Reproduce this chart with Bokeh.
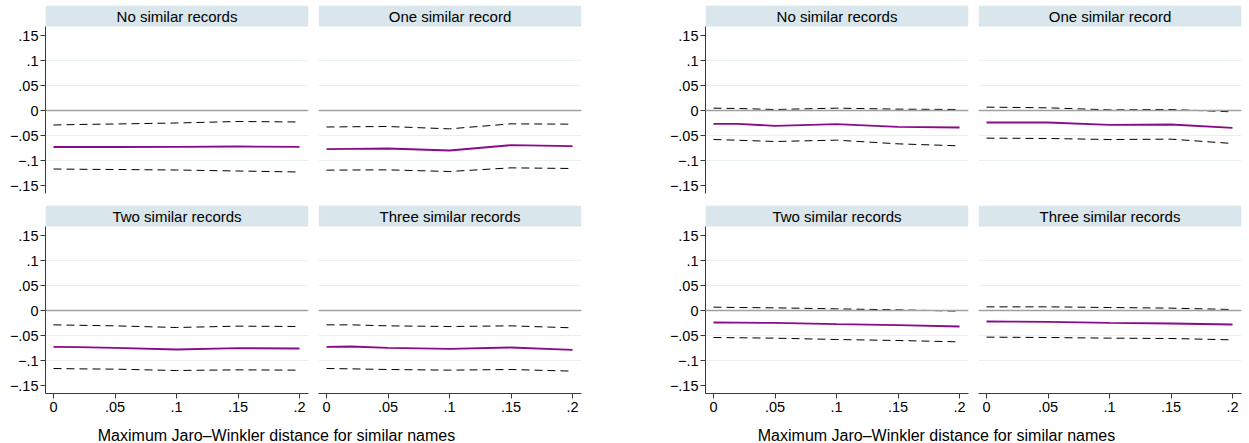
from bokeh.plotting import figure
from bokeh.layouts import column, row
from bokeh.models import FixedTicker, Span, BoxAnnotation, Label, Range1d, Grid
from bokeh.embed import file_html
from bokeh.resources import INLINE

# ---------------- data ----------------
X = [0, 0.02, 0.05, 0.1, 0.15, 0.2]
PANEL_TITLES = ["No similar records", "One similar record",
                "Two similar records", "Three similar records"]
X_TITLE = "Maximum Jaro\u2013Winkler distance for similar names"
X_TICKS = [0, 0.05, 0.1, 0.15, 0.2]
X_TICK_LABELS = ["0", ".05", ".1", ".15", ".2"]
Y_TICKS = [-0.15, -0.1, -0.05, 0, 0.05, 0.1, 0.15]
Y_TICK_LABELS = ["\u2212.15", "\u2212.1", "\u2212.05", "0", ".05", ".1", ".15"]
GRID_VALUES = [-0.1, -0.05, 0.05, 0.1]

# left group (estimate, lower CI, upper CI) per panel
left_no_est = [-0.073, -0.073, -0.073, -0.0727, -0.072, -0.0727]
left_no_lo = [-0.117, -0.1175, -0.118, -0.119, -0.121, -0.123]
left_no_hi = [-0.029, -0.028, -0.027, -0.025, -0.022, -0.023]

left_one_est = [-0.0773, -0.0767, -0.076, -0.080, -0.0693, -0.0713]
left_one_lo = [-0.1193, -0.119, -0.1187, -0.122, -0.1147, -0.116]
left_one_hi = [-0.033, -0.0325, -0.032, -0.0367, -0.0267, -0.0273]

left_two_est = [-0.0727, -0.0733, -0.0747, -0.078, -0.0753, -0.076]
left_two_lo = [-0.116, -0.1167, -0.1173, -0.12, -0.1187, -0.1193]
left_two_hi = [-0.0287, -0.0295, -0.0307, -0.034, -0.0313, -0.032]

left_three_est = [-0.0727, -0.072, -0.0747, -0.0767, -0.074, -0.0787]
left_three_lo = [-0.116, -0.1167, -0.118, -0.1193, -0.118, -0.1213]
left_three_hi = [-0.0287, -0.0287, -0.0307, -0.032, -0.0307, -0.0347]

# right group
right_no_est = [-0.0267, -0.0267, -0.0307, -0.0273, -0.0327, -0.034]
right_no_lo = [-0.058, -0.0595, -0.062, -0.0593, -0.0667, -0.0707]
right_no_hi = [0.0047, 0.004, 0.002, 0.0047, 0.0027, 0.002]

right_one_est = [-0.024, -0.024, -0.024, -0.0287, -0.028, -0.0347]
right_one_lo = [-0.0553, -0.0555, -0.056, -0.058, -0.0573, -0.066]
right_one_hi = [0.0067, 0.0063, 0.0053, 0.0013, 0.002, -0.0027]

right_two_est = [-0.024, -0.0243, -0.0247, -0.0273, -0.0293, -0.032]
right_two_lo = [-0.054, -0.0545, -0.0553, -0.058, -0.06, -0.0627]
right_two_hi = [0.0067, 0.006, 0.0053, 0.0033, 0.0013, -0.0013]

right_three_est = [-0.022, -0.0222, -0.0227, -0.0247, -0.026, -0.028]
right_three_lo = [-0.0533, -0.0536, -0.054, -0.0553, -0.056, -0.0587]
right_three_hi = [0.0073, 0.0073, 0.0073, 0.006, 0.0047, 0.002]

# ---------------- style ----------------
FONT = "Liberation Sans"
X_LO, X_HI = -0.0065, 0.2073
Y_LO, Y_HI = -0.166, 0.168
HEAD = 0.042
HEAD_FILL = "#d9e6eb"
GRID_COLOR = "#e8eff1"
ZERO_COLOR = "#a0a0a0"
EST_COLOR = "#8b0a8b"
AXIS_COLOR = "#3a3a3a"
TICK_FONT_SIZE = "14.5px"


def panel(title, est, lo, hi, show_y, show_x, width, height, mbl, mbr, mbt, mbb):
    p = figure(width=width, height=height, title=None,
               x_range=Range1d(X_LO, X_HI), y_range=Range1d(Y_LO, Y_HI + HEAD),
               output_backend="svg", toolbar_location=None, tools="",
               min_border_left=mbl, min_border_right=mbr,
               min_border_top=mbt, min_border_bottom=mbb,
               x_axis_location="below" if show_x else None,
               y_axis_location="left" if show_y else None)
    p.outline_line_color = None
    p.background_fill_color = "white"
    p.border_fill_color = "white"
    p.xgrid.visible = False
    p.ygrid.visible = False
    p.add_layout(Grid(dimension=1, ticker=FixedTicker(ticks=GRID_VALUES),
                      grid_line_color=GRID_COLOR, grid_line_width=1), "center")
    p.add_layout(Span(location=0, dimension="width", line_color=ZERO_COLOR,
                      line_width=1.6))
    p.add_layout(BoxAnnotation(bottom=Y_HI, fill_color=HEAD_FILL, fill_alpha=1.0,
                               line_color=None))
    p.add_layout(Label(x=(X_LO + X_HI) / 2, y=Y_HI + HEAD / 2, text=title,
                       text_align="center", text_baseline="middle",
                       text_font=FONT, text_font_size="15px", text_color="black"))

    p.line(X, hi, line_color="black", line_dash="8 5", line_width=1)
    p.line(X, lo, line_color="black", line_dash="8 5", line_width=1)
    p.line(X, est, line_color=EST_COLOR, line_width=1.8)

    if show_y:
        ax = p.yaxis[0]
        ax.ticker = FixedTicker(ticks=Y_TICKS)
        ax.major_label_overrides = dict(zip(Y_TICKS, Y_TICK_LABELS))
        ax.bounds = (Y_LO, Y_HI)
        ax.minor_tick_line_color = None
        ax.major_tick_in = 0
        ax.major_tick_out = 5
        ax.major_label_standoff = 2
        ax.axis_line_color = AXIS_COLOR
        ax.major_tick_line_color = AXIS_COLOR
        ax.major_label_text_font = FONT
        ax.major_label_text_font_size = TICK_FONT_SIZE
        ax.major_label_text_color = "black"
    if show_x:
        ax = p.xaxis[0]
        ax.ticker = FixedTicker(ticks=X_TICKS)
        ax.major_label_overrides = dict(zip(X_TICKS, X_TICK_LABELS))
        ax.minor_tick_line_color = None
        ax.major_tick_in = 0
        ax.major_tick_out = 5
        ax.major_label_standoff = 3
        ax.axis_line_color = AXIS_COLOR
        ax.major_tick_line_color = AXIS_COLOR
        ax.major_label_text_font = FONT
        ax.major_label_text_font_size = TICK_FONT_SIZE
        ax.major_label_text_color = "black"
    return p


TOP_H, BOT_H, TITLE_H = 205, 214, 24
W_L1, W_L2, W_R1, W_R2 = 318, 274, 386, 271
# (left border, right border) for each column of panels
BORDERS = [(45, 10), (0, 11), (113, 10), (0, 8)]
WIDTHS = [W_L1, W_L2, W_R1, W_R2]

top_sets = [
    (PANEL_TITLES[0], left_no_est, left_no_lo, left_no_hi, True),
    (PANEL_TITLES[1], left_one_est, left_one_lo, left_one_hi, False),
    (PANEL_TITLES[0], right_no_est, right_no_lo, right_no_hi, True),
    (PANEL_TITLES[1], right_one_est, right_one_lo, right_one_hi, False),
]
bot_sets = [
    (PANEL_TITLES[2], left_two_est, left_two_lo, left_two_hi, True),
    (PANEL_TITLES[3], left_three_est, left_three_lo, left_three_hi, False),
    (PANEL_TITLES[2], right_two_est, right_two_lo, right_two_hi, True),
    (PANEL_TITLES[3], right_three_est, right_three_lo, right_three_hi, False),
]

top = row(*[
    panel(t, e, l, h, sy, False, WIDTHS[i], TOP_H, BORDERS[i][0], BORDERS[i][1], 5, 12)
    for i, (t, e, l, h, sy) in enumerate(top_sets)
])
bottom = row(*[
    panel(t, e, l, h, sy, True, WIDTHS[i], BOT_H, BORDERS[i][0], BORDERS[i][1], 0, 26)
    for i, (t, e, l, h, sy) in enumerate(bot_sets)
])


def title_fig(width, center):
    t = figure(width=width, height=TITLE_H, title=None,
               x_range=Range1d(0, width), y_range=Range1d(0, TITLE_H),
               output_backend="svg", toolbar_location=None, tools="",
               min_border=0, x_axis_location=None, y_axis_location=None)
    t.outline_line_color = None
    t.xgrid.visible = False
    t.ygrid.visible = False
    t.add_layout(Label(x=center, y=8, text=X_TITLE, text_align="center",
                       text_baseline="alphabetic", text_font=FONT,
                       text_font_size="16px", text_color="black"))
    return t


titles = row(title_fig(W_L1 + W_L2, 276), title_fig(W_R1 + W_R2, 936 - (W_L1 + W_L2)))

layout = column(top, bottom, titles)
open("out.html", "w").write(file_html(layout, INLINE))
